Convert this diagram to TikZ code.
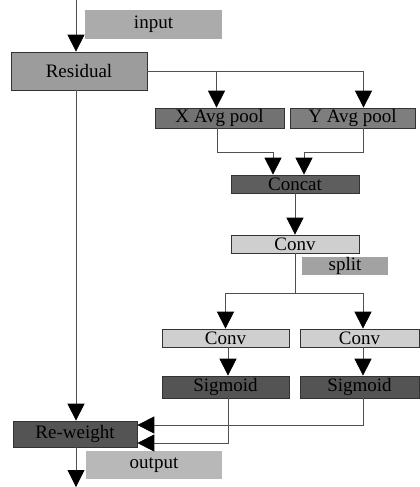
\documentclass[tikz,border=0pt]{standalone}
\usepackage{fontspec}
\setmainfont{Liberation Serif}
\usepackage{tikz}
\usetikzlibrary{arrows.meta,positioning,calc}
\usepackage{xcolor}
\definecolor{CaResidual}{HTML}{9C9C9C}
\definecolor{CaTag}{HTML}{ABABAB}
\definecolor{CaPoolX}{HTML}{727272}
\definecolor{CaPoolY}{HTML}{7E7E7E}
\definecolor{CaConcat}{HTML}{5E5E5E}
\definecolor{CaConv}{HTML}{CFCFCF}
\definecolor{CaSplit}{HTML}{A2A2A2}
\definecolor{CaSig}{HTML}{545454}
\definecolor{CaOut}{HTML}{B8B8B8}
\definecolor{CaLine}{HTML}{505050}

\begin{document}
\begin{tikzpicture}[x=1pt,y=-1pt,
    every node/.style={font=\fontsize{19}{19}\selectfont,inner sep=0pt,align=center},
    blk/.style={draw=black!80,line width=0.7pt,rectangle},
    tag/.style={rectangle},
    link/.style={draw=CaLine,line width=0.8pt},
    arr/.style={link,-{Triangle[length=17pt,width=17pt,color=black,fill=black]}}]
    \useasboundingbox (0,0) rectangle (420,487);
    \node[tag,fill=CaTag,minimum width=137,minimum height=29] (input) at (153.5,24.5) {input};
    \node[blk,fill=CaResidual,minimum width=136,minimum height=38] (residual) at (79,71) {Residual};
    \node[blk,fill=CaPoolX,minimum width=129,minimum height=20] (xpool) at (219.5,118) {X Avg pool};
    \node[blk,fill=CaPoolY,minimum width=125,minimum height=20] (ypool) at (352.5,118) {Y Avg pool};
    \node[blk,fill=CaConcat,minimum width=128,minimum height=18] (concat) at (295,184) {Concat};
    \node[blk,fill=CaConv,minimum width=128,minimum height=18] (conv) at (295,244) {Conv};
    \node[tag,fill=CaSplit,minimum width=86,minimum height=18] (split) at (345,266) {split};
    \node[blk,fill=CaConv,minimum width=127,minimum height=18] (convl) at (225.5,338) {Conv};
    \node[blk,fill=CaConv,minimum width=119,minimum height=18] (convr) at (359.5,338) {Conv};
    \node[blk,fill=CaSig,minimum width=127,minimum height=22] (sigl) at (225.5,387) {Sigmoid};
    \node[blk,fill=CaSig,minimum width=119,minimum height=22] (sigr) at (359.5,387) {Sigmoid};
    \node[blk,fill=CaSig,minimum width=124,minimum height=26] (reweight) at (75,434) {Re-weight};
    \node[tag,fill=CaOut,minimum width=136,minimum height=28] (output) at (154,465) {output};
    % free ends and joints
    \coordinate (top) at (76,0);
    \coordinate (bottom) at (76,487);
    \coordinate (xdrop) at ([xshift=-3]xpool.north);
    \coordinate (xjoin) at (217,152);
    \coordinate (yjoin) at (363,152);
    \coordinate (fork) at (295,293);
    \draw[arr] (top) -- (top |- residual.north);
    \draw[arr] (residual.east) -| ([xshift=11]ypool.north);
    \draw[arr] (xdrop |- residual.east) -- (xdrop);
    \draw[arr] (xjoin |- xpool.south) -- (xjoin) -| ([xshift=-22]concat.north);
    \draw[arr] (yjoin |- ypool.south) -- (yjoin) -| ([xshift=9]concat.north);
    \draw[arr] (concat) -- (conv);
    \draw[link] (conv.south) -- (fork);
    \draw[arr] (fork) -| (convl.north);
    \draw[arr] (fork) -| ([xshift=3.5]convr.north);
    \draw[arr] ([xshift=2.5]convl.south) -- ([xshift=2.5]sigl.north);
    \draw[arr] ([xshift=3.5]convr.south) -- ([xshift=3.5]sigr.north);
    \draw[arr] (top |- residual.south) -- (top |- reweight.north);
    \draw[arr] ([xshift=2.5]sigl.south) |- ([yshift=-9]reweight.east);
    \draw[arr] ([xshift=3.5]sigr.south) |- ([yshift=9]reweight.east);
    \draw[arr] (top |- reweight.south) -- (bottom);
\end{tikzpicture}
\end{document}
